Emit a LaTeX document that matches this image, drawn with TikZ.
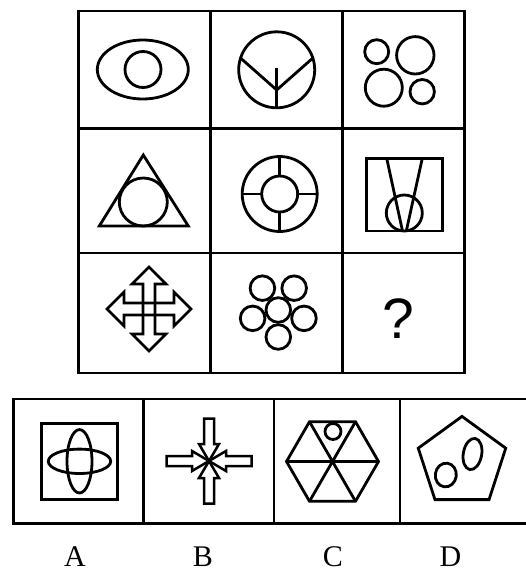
\documentclass[tikz,border=0pt]{standalone}
\usepackage{fontspec}
\setmainfont{Liberation Serif}
\newfontfamily\qfont{Liberation Sans}
\begin{document}
\begin{tikzpicture}[x=1pt,y=-1pt,
  fig/.style={line width=2.8pt, draw=black},
  gridline/.style={line width=2.8pt, draw=black},
  lbl/.style={anchor=base, inner sep=0pt, font=\fontsize{30}{30}\selectfont}]
\useasboundingbox (0,0) rectangle (526,573);
% ---------- 3x3 grid ----------
\draw[gridline] (78.5,11) rectangle (464.5,373);
\draw[gridline] (210.5,11) -- (210.5,373) (342.3,11) -- (342.3,373)
  (78.5,128.5) -- (464.5,128.5) (78.5,253) -- (464.5,253);
% ---------- answer strip ----------
\draw[gridline] (527,399) -- (13.7,399) -- (13.7,523.3) -- (527,523.3);
\draw[gridline] (143.5,399) -- (143.5,523.3) (274,399) -- (274,523.3) (400,399) -- (400,523.3);
% ---------- row 1 ----------
\draw[fig] (142.8,69.5) ellipse [x radius=45.5pt, y radius=29.5pt];
\draw[fig] (143,69.5) circle [radius=18pt];
\draw[fig] (276.7,69.8) circle [radius=38pt];
\draw[fig] (276.7,67.7) -- (276.7,107.8);
\draw[fig, line join=round] ([shift={(-162:38)}]276.7,69.8) -- (276.7,90) -- ([shift={(-18:38)}]276.7,69.8);
\draw[fig] (376.7,51.7) circle [radius=12pt];
\draw[fig] (415.3,55.3) circle [radius=18.7pt];
\draw[fig] (383.8,87.7) circle [radius=18.5pt];
\draw[fig] (422.2,91.7) circle [radius=12.2pt];
% ---------- row 2 ----------
\draw[fig] (143.3,155) -- (188.3,226) -- (99.3,226) -- cycle;
\draw[fig] (143.3,202) circle [radius=24pt];
\draw[fig] (279.7,194) circle [radius=37.5pt];
\draw[fig] (279.7,194) circle [radius=18pt];
\draw[fig] (279.7,176) -- (279.7,156.5) (279.7,212) -- (279.7,231.5)
  (261.7,194) -- (242.2,194) (297.7,194) -- (317.2,194);
\draw[fig] (366.7,158.3) rectangle (442.7,231);
\draw[fig] (386.7,158.3) -- (402.5,231) (422.3,158.3) -- (406.3,231);
\draw[fig] (404.3,213) circle [radius=18pt];
% ---------- row 3 ----------
\begin{scope}[shift={(149,309)}]
\draw[fig, line width=2.6pt] (0,-42) -- (17,-25) -- (6,-25) -- (6,25) -- (17,25) -- (0,42)
  -- (-17,25) -- (-6,25) -- (-6,-25) -- (-17,-25) -- cycle;
\draw[fig, line width=2.6pt] (-42,0) -- (-25,-17) -- (-25,-6) -- (25,-6) -- (25,-17) -- (42,0)
  -- (25,17) -- (25,6) -- (-25,6) -- (-25,17) -- cycle;
\end{scope}
\draw[fig] (278.3,310) circle [radius=12.3pt];
\foreach \a in {18,90,162,234,306}
  \draw[fig] ([shift={(\a:27)}]278.3,310) circle [radius=12.3pt];
\node[anchor=base, inner sep=0pt, font=\qfont\fontsize{57}{57}\selectfont] (q) at (398.5,338) {?};
% ---------- option A ----------
\draw[fig] (41.7,423.3) rectangle (117.3,499.3);
\draw[fig] (79.5,461.3) ellipse [x radius=31.2pt, y radius=12.2pt];
\draw[fig] (79.5,461.3) ellipse [x radius=12.5pt, y radius=31.7pt];
% ---------- option B ----------
\begin{scope}[shift={(209,461)}]
\foreach \r in {0,90,180,270}
  \draw[fig, line width=2.5pt, rotate=\r] (0,0) -- (-17,-10) -- (-17,-5) -- (-42.5,-5)
    -- (-42.5,5) -- (-17,5) -- (-17,10) -- cycle;
\end{scope}
% ---------- option C ----------
\draw[fig] (378.5,461.5) -- (355.5,421.7) -- (309.5,421.7) -- (286.5,461.5)
  -- (309.5,501.3) -- (355.5,501.3) -- cycle;
\draw[fig] (378.5,461.5) -- (286.5,461.5) (355.5,421.7) -- (309.5,501.3)
  (309.5,421.7) -- (355.5,501.3);
\draw[fig] (333,431.5) circle [radius=8pt];
% ---------- option D ----------
\draw[fig] ([shift={(-90:46)}]462,462.4) -- ([shift={(-18:46)}]462,462.4)
  -- ([shift={(54:46)}]462,462.4) -- ([shift={(126:46)}]462,462.4)
  -- ([shift={(198:46)}]462,462.4) -- cycle;
\draw[fig, rotate around={-8:(445.8,475)}] (445.8,475) ellipse [x radius=10.5pt, y radius=11.9pt];
\draw[fig, rotate around={-10:(472.5,454)}] (472.5,454) ellipse [x radius=9.2pt, y radius=15.8pt];
% ---------- labels ----------
\node[lbl] (la) at (75,566) {A};
\node[lbl] (lb) at (203,566) {B};
\node[lbl] (lc) at (333,566) {C};
\node[lbl] (ld) at (450.5,566) {D};
\end{tikzpicture}
\end{document}
